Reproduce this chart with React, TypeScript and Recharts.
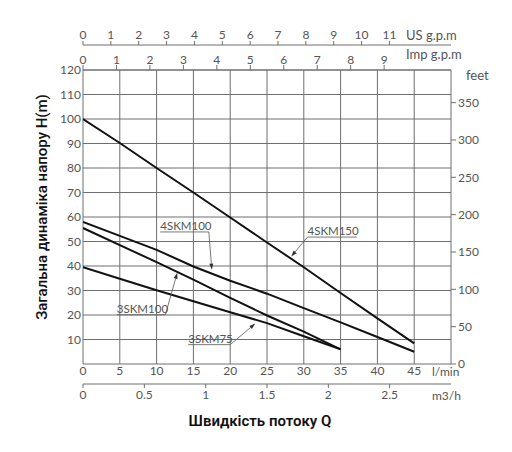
import React from "react"
import {
  LineChart,
  Line,
  XAxis,
  YAxis,
  CartesianGrid,
  ReferenceLine,
  ReferenceDot,
} from "recharts"

// Flow, l/min
const FLOW_4SKM = [0, 5, 10, 15, 20, 25, 30, 35, 40, 45]
const FLOW_3SKM = [0, 5, 10, 15, 20, 25, 30, 35]

// Head, m
const HEAD_4SKM150 = [100, 90.2, 80, 70, 59.8, 49.6, 39.5, 29, 18.6, 8.4]
const HEAD_4SKM100 = [58, 52.3, 46.6, 39.8, 34, 28.7, 22.8, 17, 11, 5]
const HEAD_3SKM100 = [55.5, 48.5, 41.6, 34.4, 27, 19.8, 13.2, 6]
const HEAD_3SKM75 = [39.5, 34.8, 30.1, 25.6, 21.1, 16.7, 11.3, 6]

const LPM_TICKS = [0, 5, 10, 15, 20, 25, 30, 35, 40, 45, 50]
const HEAD_TICKS = [0, 10, 20, 30, 40, 50, 60, 70, 80, 90, 100, 110, 120]
const FEET_TICKS = [0, 50, 100, 150, 200, 250, 300, 350]
const US_GPM_TICKS = [0, 1, 2, 3, 4, 5, 6, 7, 8, 9, 10, 11]
const IMP_GPM_TICKS = [0, 1, 2, 3, 4, 5, 6, 7, 8, 9]
const M3H_TICKS = [0, 0.5, 1, 1.5, 2, 2.5]

const LPM_MAX = 50
const HEAD_MAX = 120
const FT_PER_M = 3.2808
const L_PER_US_GAL = 3.785
const L_PER_IMP_GAL = 4.546

const toSeries = (flow: number[], head: number[]) =>
  flow.map((q, i) => ({ q, h: head[i] }))

const SERIES = [
  { name: "4SKM150", data: toSeries(FLOW_4SKM, HEAD_4SKM150) },
  { name: "4SKM100", data: toSeries(FLOW_4SKM, HEAD_4SKM100) },
  { name: "3SKM100", data: toSeries(FLOW_3SKM, HEAD_3SKM100) },
  { name: "3SKM75", data: toSeries(FLOW_3SKM, HEAD_3SKM75) },
]

// label placement (l/min, m): text from x1 to x2 sitting on underline y,
// leader from (fromX, y) to arrow tip
const NOTES = [
  { text: "4SKM100", x1: 10.5, x2: 17.1, y: 53.9, fromX: 17.1, tipX: 17.5, tipY: 38.5 },
  { text: "4SKM150", x1: 30.5, x2: 37.2, y: 51.8, fromX: 30.5, tipX: 28.3, tipY: 43.9 },
  { text: "3SKM100", x1: 4.6, x2: 11.2, y: 20.1, fromX: 11.2, tipX: 12.8, tipY: 37.2 },
  { text: "3SKM75", x1: 14.3, x2: 20.0, y: 7.9, fromX: 20.0, tipX: 23.4, tipY: 16.5 },
]

const GRID = "#6f6f6f"
const TICK = { fontSize: 12, fill: "#555" }
const NOTE_COLOR = "#555"

const Arrow = (props: any) => {
  const { x1, y1, x2, y2 } = props
  const dx = x2 - x1
  const dy = y2 - y1
  const len = Math.sqrt(dx * dx + dy * dy) || 1
  const ux = dx / len
  const uy = dy / len
  const bx = x2 - ux * 6
  const by = y2 - uy * 6
  const pts = `${x2},${y2} ${bx - uy * 2},${by + ux * 2} ${bx + uy * 2},${by - ux * 2}`
  return (
    <g>
      <line x1={x1} y1={y1} x2={bx} y2={by} stroke={NOTE_COLOR} strokeWidth={0.8} />
      <polygon points={pts} fill="#333" />
    </g>
  )
}

export default function App() {
  return (
    <div style={{ position: "absolute", left: 0, top: 0, fontFamily: "Lato, 'Open Sans', sans-serif" }}>
      <LineChart width={512} height={452} margin={{ top: 20, right: 0, left: 0, bottom: 38 }}>
        <CartesianGrid xAxisId="lpm" yAxisId="m" stroke={GRID} strokeWidth={1} />

        <XAxis
          xAxisId="lpm"
          type="number"
          dataKey="q"
          domain={[0, LPM_MAX]}
          ticks={LPM_TICKS}
          tickFormatter={(v) => (v === LPM_MAX ? "" : String(v))}
          allowDataOverflow
          axisLine={false}
          tickLine={false}
          tickSize={0}
          tickMargin={2}
          height={20}
          tick={TICK}
          label={{
            content: ({ viewBox }: any) => (
              <text x={viewBox.x + viewBox.width - 19} y={viewBox.y + 12} fontSize={12} fill="#555">
                l/min
              </text>
            ),
          }}
        />
        <XAxis
          xAxisId="m3h"
          type="number"
          dataKey="q"
          domain={[0, LPM_MAX * 0.06]}
          ticks={M3H_TICKS}
          allowDataOverflow
          stroke={GRID}
          tickSize={4}
          tickMargin={2}
          height={30}
          tick={TICK}
          label={{
            content: ({ viewBox }: any) => (
              <g>
                <text x={viewBox.x + viewBox.width - 19} y={viewBox.y + 16} fontSize={12} fill="#555">
                  m3/h
                </text>
                <text
                  x={260}
                  y={viewBox.y + 42}
                  fontSize={15}
                  fontWeight={600}
                  fill="#111"
                  textAnchor="middle"
                  fontFamily="Roboto, sans-serif"
                >
                  Швидкість потоку Q
                </text>
              </g>
            ),
          }}
        />
        <XAxis
          xAxisId="imp"
          orientation="top"
          type="number"
          dataKey="q"
          domain={[0, LPM_MAX / L_PER_IMP_GAL]}
          ticks={IMP_GPM_TICKS}
          allowDataOverflow
          stroke={GRID}
          tickSize={5}
          tickMargin={1}
          height={25}
          tick={TICK}
          label={{
            content: ({ viewBox }: any) => (
              <text x={viewBox.x + viewBox.width - 45} y={viewBox.y + 14} fontSize={13} fill="#555">
                Imp g.p.m
              </text>
            ),
          }}
        />
        <XAxis
          xAxisId="us"
          orientation="top"
          type="number"
          dataKey="q"
          domain={[0, LPM_MAX / L_PER_US_GAL]}
          ticks={US_GPM_TICKS}
          allowDataOverflow
          stroke={GRID}
          tickSize={4}
          tickMargin={2}
          height={25}
          tick={TICK}
          label={{
            content: ({ viewBox }: any) => (
              <text x={viewBox.x + viewBox.width - 45} y={viewBox.y + 20} fontSize={13} fill="#555">
                US g.p.m
              </text>
            ),
          }}
        />

        <YAxis
          yAxisId="m"
          type="number"
          domain={[0, HEAD_MAX]}
          ticks={HEAD_TICKS}
          tickFormatter={(v) => (v === 0 ? "" : String(v))}
          allowDataOverflow
          axisLine={false}
          tickLine={false}
          tickSize={0}
          tickMargin={2}
          width={83}
          tick={TICK}
          label={{
            content: ({ viewBox }: any) => {
              const cx = viewBox.x + 43
              const cy = viewBox.y + viewBox.height / 2 - 10
              return (
                <text
                  x={cx}
                  y={cy}
                  transform={`rotate(-90 ${cx} ${cy})`}
                  textAnchor="middle"
                  dominantBaseline="middle"
                  fontSize={15}
                  fontWeight={500}
                  fill="#111"
                  fontFamily="Roboto, sans-serif"
                >
                  Загальна динаміка напору H(m)
                </text>
              )
            },
          }}
        />
        <YAxis
          yAxisId="ft"
          orientation="right"
          type="number"
          domain={[0, HEAD_MAX * FT_PER_M]}
          ticks={FEET_TICKS}
          allowDataOverflow
          axisLine={false}
          stroke={GRID}
          tickSize={5}
          tickMargin={2}
          width={61}
          tick={TICK}
          label={{
            content: ({ viewBox }: any) => (
              <text x={viewBox.x + 15} y={viewBox.y + 10} fontSize={13} fill="#555">
                feet
              </text>
            ),
          }}
        />

        {SERIES.map((s) => (
          <Line
            key={s.name}
            xAxisId="lpm"
            yAxisId="m"
            data={s.data}
            dataKey="h"
            name={s.name}
            type="linear"
            stroke="#111"
            strokeWidth={2}
            dot={false}
            activeDot={false}
            isAnimationActive={false}
          />
        ))}

        {NOTES.map((n) => (
          <ReferenceLine
            key={n.text + "-u"}
            xAxisId="lpm"
            yAxisId="m"
            segment={[{ x: n.x1, y: n.y }, { x: n.x2, y: n.y }]}
            stroke={NOTE_COLOR}
            strokeWidth={0.8}
          />
        ))}
        {NOTES.map((n) => (
          <ReferenceLine
            key={n.text + "-a"}
            xAxisId="lpm"
            yAxisId="m"
            segment={[{ x: n.fromX, y: n.y }, { x: n.tipX, y: n.tipY }]}
            shape={Arrow}
          />
        ))}
        {NOTES.map((n) => (
          <ReferenceDot
            key={n.text + "-t"}
            xAxisId="lpm"
            yAxisId="m"
            x={n.x1}
            y={n.y}
            r={0}
            fill="none"
            stroke="none"
            label={{
              content: ({ viewBox }: any) => (
                <text x={viewBox.x} y={viewBox.y - 2} fontSize={11.5} fill={NOTE_COLOR}>
                  {n.text}
                </text>
              ),
            }}
          />
        ))}
      </LineChart>
    </div>
  )
}
